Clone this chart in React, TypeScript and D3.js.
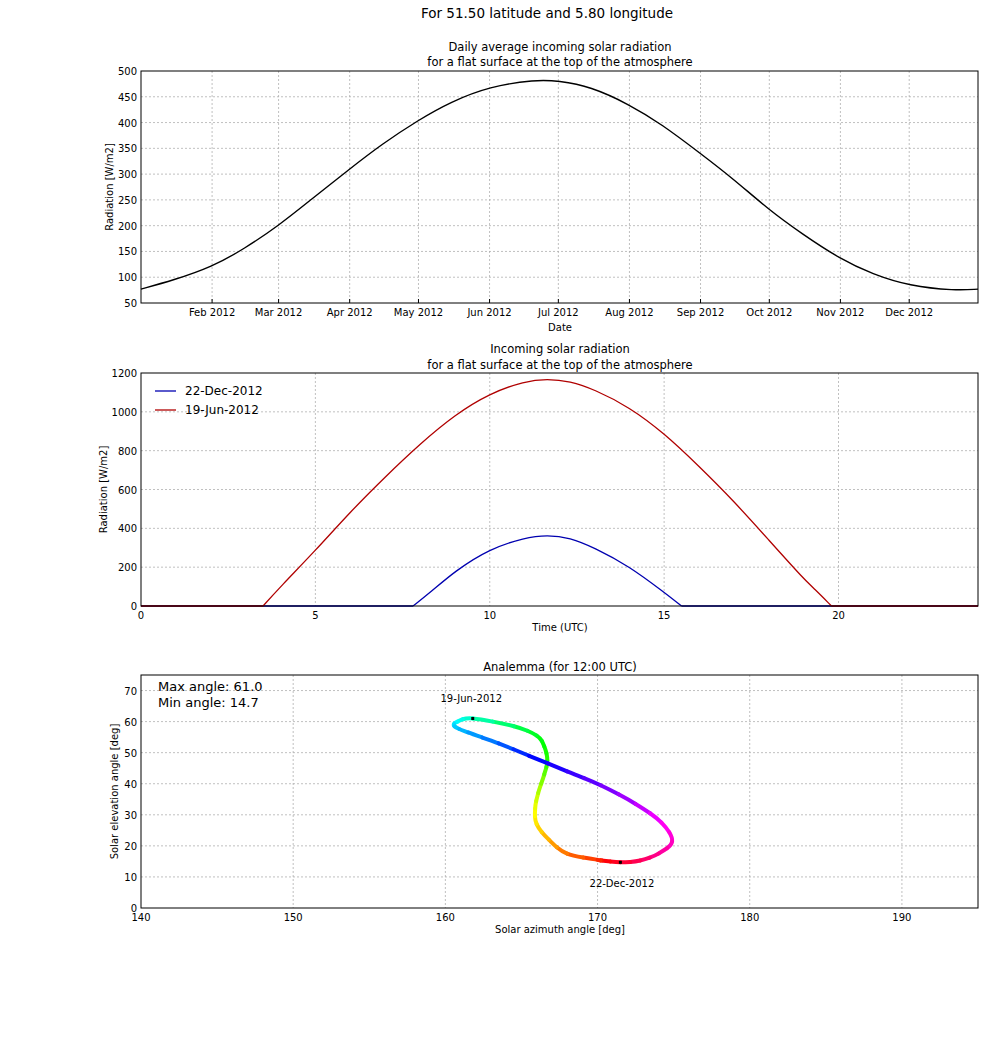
import React from "react";
import * as d3 from "d3";

const dailyDates = ["2012-01-01","2012-01-15","2012-02-01","2012-02-15","2012-03-01","2012-03-15","2012-04-01","2012-04-15","2012-05-01","2012-05-15","2012-06-01","2012-06-21","2012-07-01","2012-07-15","2012-08-01","2012-08-15","2012-09-01","2012-09-15","2012-10-01","2012-10-15","2012-11-01","2012-11-15","2012-12-01","2012-12-21","2012-12-31"];
const dailyValues = [77,94,120,155,200,250,310,358,405,440,470,483,481,470,435,397,340,292,230,185,135,106,83,74,77];
const monthTicks = ["2012-02-01","2012-03-01","2012-04-01","2012-05-01","2012-06-01","2012-07-01","2012-08-01","2012-09-01","2012-10-01","2012-11-01","2012-12-01"];

const decHours = [0,7.8,8.3,9,10,11,11.65,12.3,13,14,15,15.5,24];
const decValues = [0,0,70,180,295,352,366,352,300,205,70,0,0];
const junHours = [0,3.5,4,5,6,7,8,9,10,11,11.65,12.3,13,14,15,16,17,18,19,19.3,19.8,24];
const junValues = [0,0,100,285,485,665,835,985,1095,1158,1170,1158,1115,1025,890,720,540,340,140,90,0,0];

const anaAz = [170.0,168.0,166.8,166.0,165.9,166.1,166.5,166.7,166.5,166.0,164.5,161.8,160.8,160.6,161.5,163.5,165.5,168.0,170.2,172.5,174.2,174.9,174.0,172.8,171.5,170.3,170.0];
const anaEl = [15.5,17.5,22,27,32,37,43,47.5,52,55.5,58.5,61,60,58.5,56.5,53,49,44,39.5,33.5,27.5,21.5,17.5,15.3,14.7,15.3,15.5];
const anaHue = [12,25,40,52,62,75,95,110,118,125,140,165,178,190,200,215,235,250,265,282,300,312,325,338,350,360,372];

const W = 986, H = 1051;
const L = 141, R = 978;
const font = "DejaVu Sans, sans-serif";
const gridStyle = { stroke: "#b0b0b0", strokeDasharray: "2,2", strokeWidth: 0.8 };

function Frame({ top, bottom }: { top: number; bottom: number }) {
  return <rect x={L} y={top} width={R - L} height={bottom - top} fill="none" stroke="#000" strokeWidth={1} />;
}

export default function App() {
  const parse = d3.timeParse("%Y-%m-%d");
  const t1 = 71, b1 = 303;
  const x1 = d3.scaleTime().domain([parse("2012-01-01")!, parse("2012-12-31")!]).range([L, R]);
  const y1 = d3.scaleLinear().domain([50, 500]).range([b1, t1]);
  const line1 = d3.line<number>().x((_, i) => x1(parse(dailyDates[i])!)).y(v => y1(v)).curve(d3.curveBasis);
  const yt1 = d3.range(50, 501, 50);
  const fmt = d3.timeFormat("%b %Y");

  const t2 = 373, b2 = 606;
  const x2 = d3.scaleLinear().domain([0, 24]).range([L, R]);
  const y2 = d3.scaleLinear().domain([0, 1200]).range([b2, t2]);
  const line2 = (hs: number[], vals: number[]) => {
    const n = hs.length;
    const arcH = hs.slice(1, n - 1), arcV = vals.slice(1, n - 1);
    const arc = d3.line<number>().x((_, i) => x2(arcH[i])).y(v => y2(v)).curve(d3.curveBasis)(arcV)!;
    return `M${x2(hs[0])},${y2(vals[0])}L${x2(hs[1])},${y2(vals[1])}` + arc + `M${x2(hs[n - 2])},${y2(vals[n - 2])}L${x2(hs[n - 1])},${y2(vals[n - 1])}`;
  };
  const xt2 = [0, 5, 10, 15, 20];
  const yt2 = d3.range(0, 1201, 200);

  const t3 = 675, b3 = 908;
  const x3 = d3.scaleLinear().domain([140, 195]).range([L, R]);
  const y3 = d3.scaleLinear().domain([0, 75]).range([b3, t3]);
  const xt3 = d3.range(140, 191, 10);
  const yt3 = d3.range(0, 71, 10);
  const pts = anaAz.map((a, i) => [x3(a), y3(anaEl[i])]);
  const n = pts.length;
  const segs: { d: string; c: string }[] = [];
  const lerp = (a: number[], b: number[], t: number) => [a[0] + (b[0] - a[0]) * t, a[1] + (b[1] - a[1]) * t];
  for (let i = 0; i < n - 1; i++) {
    const p0 = pts[i === 0 ? n - 2 : i - 1], p1 = pts[i], p2 = pts[i + 1], p3 = pts[i + 2 < n ? i + 2 : 1];
    const c1 = [p1[0] + (p2[0] - p0[0]) / 6, p1[1] + (p2[1] - p0[1]) / 6];
    const c2 = [p2[0] - (p3[0] - p1[0]) / 6, p2[1] - (p3[1] - p1[1]) / 6];
    const h0 = anaHue[i], h1 = anaHue[i + 1];
    const a = lerp(p1, c1, 0.5), b = lerp(c1, c2, 0.5), c = lerp(c2, p2, 0.5);
    const dd = lerp(a, b, 0.5), e = lerp(b, c, 0.5), m = lerp(dd, e, 0.5);
    segs.push({ d: `M${p1}C${a} ${dd} ${m}`, c: d3.hsl((h0 + (h1 - h0) * 0.25) % 360, 1, 0.5).toString() });
    segs.push({ d: `M${m}C${e} ${c} ${p2}`, c: d3.hsl((h0 + (h1 - h0) * 0.75) % 360, 1, 0.5).toString() });
  }

  const tick = 10;
  const tf = 11.5;
  return (
    <svg width={W} height={H} style={{ position: "absolute", left: 0, top: 0, background: "#fff" }} fontFamily={font}>
      <rect width={W} height={H} fill="#fff" />
      <text x={547} y={18} textAnchor="middle" fontSize={13.5}>For 51.50 latitude and 5.80 longitude</text>

      <text x={560} y={51} textAnchor="middle" fontSize={tf}>Daily average incoming solar radiation</text>
      <text x={560} y={66} textAnchor="middle" fontSize={tf}>for a flat surface at the top of the atmosphere</text>
      {monthTicks.map(m => { const x = x1(parse(m)!); return (
        <g key={m}><line x1={x} x2={x} y1={t1} y2={b1} {...gridStyle} />
          <line x1={x} x2={x} y1={b1} y2={b1 - 4} stroke="#000" />
          <text x={x} y={b1 + 13} textAnchor="middle" fontSize={tick}>{fmt(parse(m)!)}</text></g>); })}
      {yt1.map(v => (<g key={v}>{v > 50 && v < 500 && <line x1={L} x2={R} y1={y1(v)} y2={y1(v)} {...gridStyle} />}
        <text x={L - 4} y={y1(v) + 4} textAnchor="end" fontSize={tick}>{v}</text></g>))}
      <path d={line1(dailyValues)!} fill="none" stroke="#000" strokeWidth={1.4} />
      <Frame top={t1} bottom={b1} />
      <text x={560} y={331} textAnchor="middle" fontSize={tick}>Date</text>
      <text transform={`translate(113,${(t1 + b1) / 2}) rotate(-90)`} textAnchor="middle" fontSize={tick}>Radiation [W/m2]</text>

      <text x={560} y={353} textAnchor="middle" fontSize={tf}>Incoming solar radiation</text>
      <text x={560} y={369} textAnchor="middle" fontSize={tf}>for a flat surface at the top of the atmosphere</text>
      {xt2.map(v => (<g key={v}>{v > 0 && <line x1={x2(v)} x2={x2(v)} y1={t2} y2={b2} {...gridStyle} />}
        <text x={x2(v)} y={b2 + 13} textAnchor="middle" fontSize={tick}>{v}</text></g>))}
      {yt2.map(v => (<g key={v}>{v > 0 && v < 1200 && <line x1={L} x2={R} y1={y2(v)} y2={y2(v)} {...gridStyle} />}
        <text x={L - 4} y={y2(v) + 4} textAnchor="end" fontSize={tick}>{v}</text></g>))}
      <path d={line2(decHours, decValues)} fill="none" stroke="#0000b0" strokeWidth={1.3} />
      <path d={line2(junHours, junValues)} fill="none" stroke="#b00000" strokeWidth={1.3} />
      <Frame top={t2} bottom={b2} />
      <line x1={155} x2={176} y1={391} y2={391} stroke="#0000b0" strokeWidth={1.3} />
      <text x={185} y={395} fontSize={12}>22-Dec-2012</text>
      <line x1={155} x2={176} y1={410} y2={410} stroke="#b00000" strokeWidth={1.3} />
      <text x={185} y={414} fontSize={12}>19-Jun-2012</text>
      <text x={560} y={631} textAnchor="middle" fontSize={tick}>Time (UTC)</text>
      <text transform={`translate(107,${(t2 + b2) / 2}) rotate(-90)`} textAnchor="middle" fontSize={tick}>Radiation [W/m2]</text>

      <text x={560} y={671} textAnchor="middle" fontSize={tf}>Analemma (for 12:00 UTC)</text>
      {xt3.map(v => (<g key={v}>{v > 140 && <line x1={x3(v)} x2={x3(v)} y1={t3} y2={b3} {...gridStyle} />}
        <text x={x3(v)} y={b3 + 13} textAnchor="middle" fontSize={tick}>{v}</text></g>))}
      {yt3.map(v => (<g key={v}>{v > 0 && <line x1={L} x2={R} y1={y3(v)} y2={y3(v)} {...gridStyle} />}
        <text x={L - 4} y={y3(v) + 4} textAnchor="end" fontSize={tick}>{v}</text></g>))}
      {segs.map((s, i) => <path key={i} d={s.d} fill="none" stroke={s.c} strokeWidth={4} strokeLinecap="round" />)}
      <rect x={x3(161.8) - 1.5} y={y3(61) - 1.5} width={3} height={3} fill="#000" />
      <rect x={x3(171.5) - 1.5} y={y3(14.7) - 1.5} width={3} height={3} fill="#000" />
      <text x={x3(161.7)} y={702} textAnchor="middle" fontSize={tick}>19-Jun-2012</text>
      <text x={x3(171.6)} y={887} textAnchor="middle" fontSize={tick}>22-Dec-2012</text>
      <text x={158} y={691} fontSize={13}>Max angle: 61.0</text>
      <text x={158} y={707} fontSize={13}>Min angle: 14.7</text>
      <Frame top={t3} bottom={b3} />
      <text x={560} y={933} textAnchor="middle" fontSize={tick}>Solar azimuth angle [deg]</text>
      <text transform={`translate(118,${(t3 + b3) / 2}) rotate(-90)`} textAnchor="middle" fontSize={tick}>Solar elevation angle [deg]</text>
    </svg>
  );
}
